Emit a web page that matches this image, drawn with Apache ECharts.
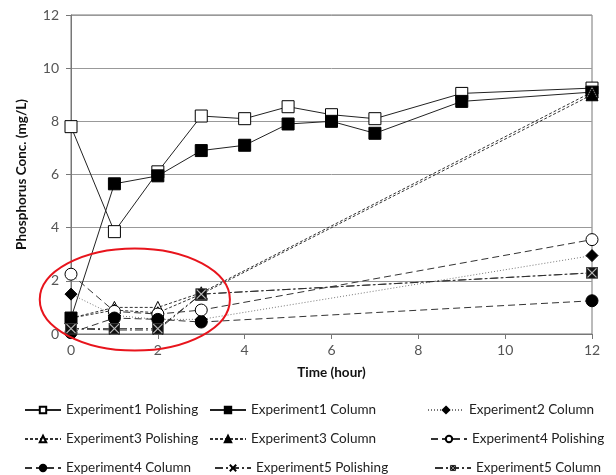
<!DOCTYPE html>
<html>
<head>
<meta charset="utf-8">
<script src="https://cdn.jsdelivr.net/npm/echarts@6/dist/echarts.min.js"></script>
<style>
html,body{margin:0;padding:0;background:#fff;}
#main{width:616px;height:475px;}
</style>
</head>
<body>
<div id="main"></div>
<script>
// ---- data ----
const hoursExp1 = [0, 1, 2, 3, 4, 5, 6, 7, 9, 12];
const exp1Polishing = [7.8, 3.85, 6.1, 8.2, 8.1, 8.55, 8.25, 8.1, 9.05, 9.25];
const exp1Column = [0.6, 5.65, 5.95, 6.9, 7.1, 7.9, 8.0, 7.55, 8.75, 9.1];
const hoursOther = [0, 1, 2, 3, 12];
const exp2Column = [1.5, 0.7, 0.55, 0.55, 2.95];
const exp3Polishing = [0.6, 1.0, 1.0, 1.55, 9.1];
const exp3Column = [0.6, 0.9, 0.8, 1.5, 9.0];
const exp4Polishing = [2.25, 0.85, 0.75, 0.9, 3.55];
const exp4Column = [0.05, 0.6, 0.55, 0.45, 1.25];
const exp5Polishing = [0.2, 0.15, 0.15, 1.5, 2.3];
const exp5Column = [0.2, 0.2, 0.2, 1.5, 2.3];
const seriesNames = ['Experiment1 Polishing', 'Experiment1 Column', 'Experiment2 Column',
  'Experiment3 Polishing', 'Experiment3 Column', 'Experiment4 Polishing',
  'Experiment4 Column', 'Experiment5 Polishing', 'Experiment5 Column'];
const yTicks = [0, 2, 4, 6, 8, 10, 12];
const xTicks = [0, 2, 4, 6, 8, 10, 12];

function pairs(xs, ys) { return xs.map((x, i) => [x, ys[i]]); }

const FONT = 'Lato';
const boxX = 'image://data:image/svg+xml;utf8,' + encodeURIComponent(
  '<svg xmlns="http://www.w3.org/2000/svg" width="12" height="12"><rect x="0.5" y="0.5" width="11" height="11" fill="#111" stroke="#444"/><path d="M1.5,1.5L10.5,10.5M10.5,1.5L1.5,10.5" stroke="#bbb" stroke-width="1.2"/></svg>');
const xMark = 'path://M0,0L10,10M10,0L0,10';

function mk(name, xs, ys, symbol, size, filled, dash, lineColor) {
  return {
    name: name, type: 'line', data: pairs(xs, ys),
    symbol: symbol, symbolSize: size, showAllSymbol: true,
    lineStyle: { color: lineColor || '#111', width: 1, type: dash },
    itemStyle: { color: filled ? '#000' : '#fff', borderColor: '#000', borderWidth: 1 },
    emphasis: { disabled: true }, animation: false, z: 3
  };
}

const series = [
  mk(seriesNames[0], hoursExp1, exp1Polishing, 'rect', 12, false, 'solid', '#222'),
  mk(seriesNames[1], hoursExp1, exp1Column, 'rect', 12, true, 'solid', '#222'),
  mk(seriesNames[2], hoursOther, exp2Column, 'diamond', 12, true, [1, 2], '#777'),
  mk(seriesNames[3], hoursOther, exp3Polishing, 'triangle', 12, false, [3, 2], '#333'),
  mk(seriesNames[4], hoursOther, exp3Column, 'triangle', 12, true, [3, 2], '#333'),
  mk(seriesNames[5], hoursOther, exp4Polishing, 'circle', 12, false, [7, 4], '#333'),
  mk(seriesNames[6], hoursOther, exp4Column, 'circle', 12, true, [7, 4], '#333'),
  mk(seriesNames[7], hoursOther, exp5Polishing, xMark, 10, false, [8, 3, 2, 3], '#333'),
  mk(seriesNames[8], hoursOther, exp5Column, boxX, 12, true, [8, 3, 2, 3], '#333')
];
series[7].itemStyle = { color: 'none', borderColor: '#000', borderWidth: 1 };

// legend layout: text left positions per row
const legendRows = [[0, 1, 2], [3, 4, 5], [6, 7, 8]];
const legendTextX = [[60, 245, 463], [60, 245, 466], [60, 250, 470]];
const legendRowY = [407, 436, 465];
const legends = [];
legendRows.forEach((row, r) => {
  row.forEach((si, c) => {
    legends.push({
      data: [seriesNames[si]],
      left: legendTextX[r][c] - 41, top: legendRowY[r] - 9,
      itemWidth: 36, itemHeight: 8, itemGap: 0,
      textStyle: { fontFamily: FONT, fontSize: 13.5, color: '#222' },
      selectedMode: false
    });
  });
});

const chart = echarts.init(document.getElementById('main'), null, { renderer: 'canvas' });
chart.setOption({
  animation: false,
  backgroundColor: '#fff',
  grid: { left: 71, right: 24, top: 15, bottom: 141, show: true, borderColor: '#777', borderWidth: 1 },
  legend: legends,
  xAxis: {
    type: 'value', min: xTicks[0], max: xTicks[xTicks.length - 1], interval: 2,
    name: 'Time (hour)', nameLocation: 'middle', nameGap: 32,
    nameTextStyle: { fontFamily: FONT, fontSize: 13.5, fontWeight: 'bold', color: '#111' },
    axisLine: { lineStyle: { color: '#777', width: 1 } },
    axisTick: { show: true, inside: false, length: 5, lineStyle: { color: '#777' } },
    axisLabel: { fontFamily: FONT, fontSize: 14, color: '#555', margin: 9 },
    splitLine: { show: false }
  },
  yAxis: {
    type: 'value', min: yTicks[0], max: yTicks[yTicks.length - 1], interval: 2,
    name: 'Phosphorus Conc. (mg/L)', nameLocation: 'middle', nameGap: 42,
    nameTextStyle: { fontFamily: FONT, fontSize: 13.5, fontWeight: 'bold', color: '#111' },
    axisLine: { show: true, lineStyle: { color: '#777', width: 1 } },
    axisTick: { show: true, inside: false, length: 5, lineStyle: { color: '#777' } },
    axisLabel: { fontFamily: FONT, fontSize: 14, color: '#555', margin: 12 },
    splitLine: { show: true, lineStyle: { color: '#999', width: 1 } }
  },
  series: series
});

// red annotation ellipse around early-time cluster
const c = chart.convertToPixel({ gridIndex: 0 }, [1.47, 1.3]);
const e = chart.convertToPixel({ gridIndex: 0 }, [1.47 + 2.19, 1.3 + 1.92]);
chart.setOption({
  graphic: [{
    type: 'ellipse', z: 100, silent: true,
    shape: { cx: c[0], cy: c[1], rx: Math.abs(e[0] - c[0]), ry: Math.abs(c[1] - e[1]) },
    style: { fill: 'none', stroke: '#e8141c', lineWidth: 2 }
  }]
});
</script>
</body>
</html>
